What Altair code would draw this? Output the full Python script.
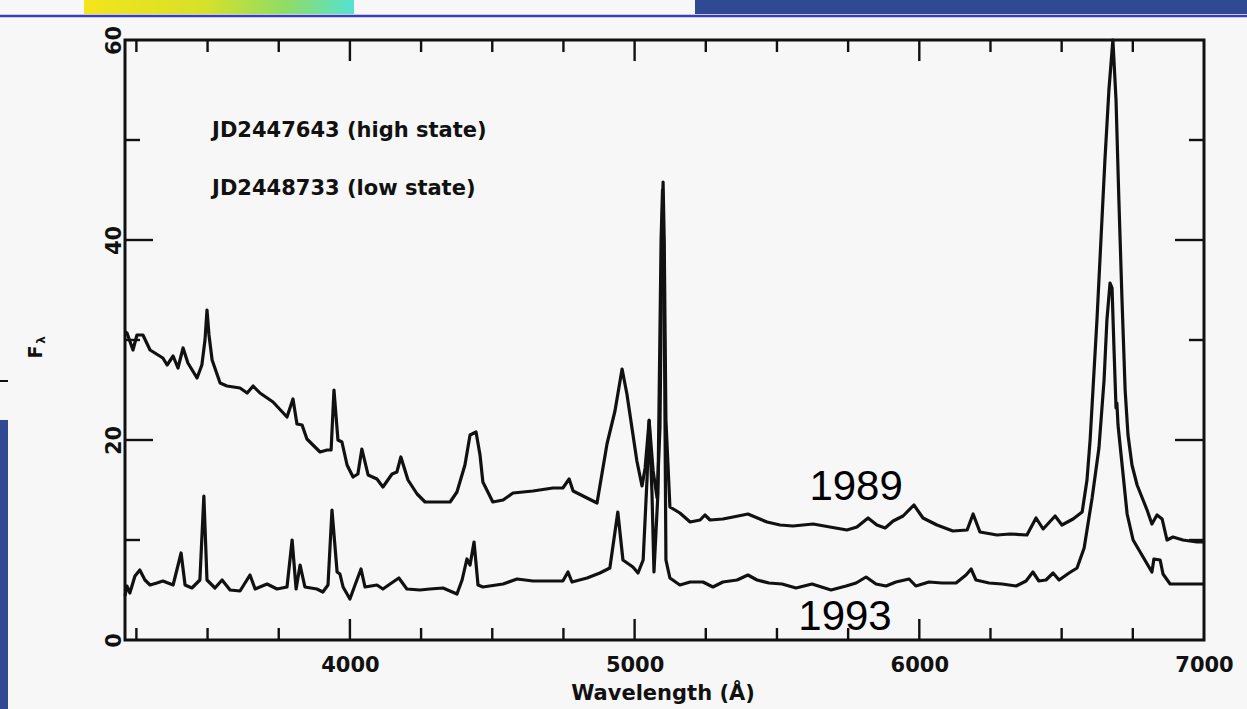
import altair as alt
import pandas as pd

# JD2447643 (1989, high state): wavelength (Å) and F_lambda
high_wl = [3210, 3217, 3238, 3252, 3273, 3298, 3343, 3358, 3379, 3396, 3414, 3431, 3463, 3480,
           3491, 3498, 3505, 3516, 3544, 3568, 3614, 3639, 3660, 3684, 3730, 3779, 3800, 3814,
           3832, 3849, 3895, 3920, 3934, 3944, 3958, 3972, 3990, 4011, 4028, 4042, 4064, 4095,
           4116, 4148, 4165, 4179, 4204, 4236, 4264, 4306, 4352, 4376, 4404, 4422, 4443, 4457,
           4467, 4502, 4538, 4573, 4643, 4713, 4748, 4770, 4784, 4819, 4868, 4903, 4931, 4956,
           4973, 5008, 5026, 5037, 5051, 5065, 5079, 5089, 5096, 5100, 5104, 5110, 5124, 5159,
           5195, 5230, 5247, 5265, 5310, 5346, 5398, 5465, 5511, 5556, 5627, 5686, 5746, 5781,
           5820, 5851, 5880, 5908, 5943, 5981, 6013, 6062, 6118, 6168, 6189, 6213, 6273, 6319,
           6378, 6410, 6435, 6477, 6501, 6540, 6572, 6589, 6600, 6610, 6624, 6638, 6652, 6666,
           6680, 6691, 6701, 6712, 6723, 6733, 6747, 6765, 6786, 6800, 6817, 6835, 6853, 6870,
           6891, 6926, 6975, 7000]
high_f = [30.8, 30.7, 29.0, 30.5, 30.5, 29.0, 28.2, 27.5, 28.4, 27.2, 29.2, 27.7, 26.2, 27.5,
          30.0, 33.0, 30.5, 28.0, 25.7, 25.4, 25.2, 24.7, 25.4, 24.7, 23.8, 22.3, 24.1, 21.6,
          21.5, 20.1, 18.8, 19.0, 19.0, 25.0, 20.0, 19.8, 17.5, 16.3, 16.6, 19.1, 16.5, 16.1,
          15.3, 16.6, 16.8, 18.3, 16.0, 14.6, 13.8, 13.8, 13.8, 14.8, 17.5, 20.5, 20.8, 18.5,
          15.8, 13.8, 14.0, 14.7, 14.9, 15.2, 15.2, 16.1, 14.9, 14.4, 13.7, 19.6, 22.9, 27.1,
          24.6, 17.9, 15.4, 17.2, 21.9, 16.9, 14.2, 21.2, 40.0, 45.8, 40.0, 22.0, 13.3, 12.7,
          11.8, 12.0, 12.5, 12.0, 12.1, 12.3, 12.6, 11.8, 11.5, 11.4, 11.6, 11.3, 11.0, 11.3,
          12.2, 11.5, 11.2, 11.9, 12.4, 13.5, 12.2, 11.5, 10.9, 11.0, 12.6, 10.8, 10.5, 10.6,
          10.5, 12.2, 11.1, 12.4, 11.5, 12.1, 12.8, 16.0, 20.0, 25.0, 32.0, 40.0, 48.0, 55.0,
          60.0, 54.0, 44.0, 34.0, 25.0, 20.5, 17.5, 15.5, 14.0, 13.0, 11.6, 12.5, 12.1, 10.0,
          10.3, 10.0, 9.8, 9.8]

# JD2448733 (1993, low state)
low_wl = [3210, 3217, 3227, 3245, 3262, 3280, 3298, 3322, 3343, 3379, 3407, 3421, 3445, 3473,
          3487, 3498, 3526, 3551, 3579, 3614, 3649, 3667, 3709, 3744, 3779, 3797, 3811, 3825,
          3842, 3884, 3905, 3923, 3937, 3955, 3965, 3976, 4000, 4018, 4039, 4053, 4095, 4116,
          4141, 4172, 4200, 4246, 4281, 4327, 4376, 4394, 4411, 4422, 4436, 4450, 4467, 4538,
          4587, 4643, 4703, 4748, 4766, 4780, 4833, 4878, 4913, 4941, 4959, 4994, 5012, 5030,
          5044, 5051, 5061, 5068, 5082, 5093, 5098, 5103, 5110, 5124, 5159, 5195, 5240, 5275,
          5310, 5360, 5398, 5430, 5472, 5518, 5567, 5623, 5690, 5743, 5778, 5813, 5848, 5883,
          5918, 5964, 5988, 6034, 6080, 6129, 6164, 6182, 6199, 6245, 6291, 6340, 6375, 6399,
          6420, 6445, 6470, 6491, 6526, 6554, 6579, 6607, 6631, 6649, 6659, 6670, 6677, 6684,
          6691, 6694, 6698, 6712, 6730, 6751, 6786, 6817, 6824, 6846, 6856, 6881, 6926, 7000]
low_f = [4.4, 5.4, 4.7, 6.4, 7.0, 6.0, 5.5, 5.7, 5.9, 5.5, 8.7, 5.5, 5.2, 6.0,
         14.4, 6.0, 5.2, 6.0, 5.0, 4.9, 6.5, 5.1, 5.6, 5.1, 5.3, 10.0, 5.1, 7.5,
         5.3, 5.1, 4.8, 5.5, 13.0, 6.8, 6.6, 5.3, 4.1, 5.5, 7.1, 5.3, 5.5, 5.1,
         5.6, 6.2, 5.1, 5.0, 5.1, 5.2, 4.6, 6.0, 8.1, 7.5, 9.8, 5.5, 5.3, 5.6,
         6.1, 5.9, 5.9, 5.9, 6.8, 5.8, 6.2, 6.7, 7.2, 12.8, 8.0, 7.3, 6.7, 8.0,
         16.3, 22.0, 14.7, 6.8, 14.7, 40.0, 45.0, 38.0, 8.0, 6.2, 5.5, 5.8, 5.8, 5.3,
         5.8, 6.0, 6.5, 6.0, 5.7, 5.6, 5.2, 5.6, 5.0, 5.4, 5.7, 6.3, 5.6, 5.4,
         5.8, 6.1, 5.4, 5.8, 5.7, 5.7, 6.5, 7.1, 6.0, 5.7, 5.6, 5.4, 5.9, 6.8,
         5.9, 6.0, 6.7, 6.0, 6.7, 7.2, 9.2, 14.2, 19.2, 26.0, 32.0, 35.7, 35.2, 29.0,
         23.2, 23.7, 21.5, 17.6, 12.6, 10.0, 8.3, 6.8, 8.1, 8.0, 6.6, 5.6, 5.6, 5.6]

# Axis layout
x_min, x_max = 3210, 7000
y_min, y_max = 0, 60
x_major = [4000, 5000, 6000]
x_minor = [3250, 3500, 3750, 4250, 4500, 4750, 5250, 5500, 5750, 6250, 6500, 6750]
y_major = [20, 40]
y_minor = [10, 30, 50]
x_labels = [4000, 5000, 6000, 7000]
y_labels = [0, 20, 40, 60]

# Annotations
legend_text = ["JD2447643 (high state)", "JD2448733 (low state)"]
legend_wl = [3516, 3516]
legend_f = [50.3, 44.5]
year_text = ["1989", "1993"]
year_wl = [5778, 5739]
year_f = [14.0, 1.0]

W, H = 1079, 600
INK = "#111111"
BOLD = "DejaVu Sans"

xs = alt.Scale(domain=[x_min, x_max], nice=False, zero=False)
ys = alt.Scale(domain=[y_min, y_max], nice=False, zero=False)

spec = pd.concat([
    pd.DataFrame({"wl": high_wl, "f": high_f, "state": "high"}),
    pd.DataFrame({"wl": low_wl, "f": low_f, "state": "low"}),
])

lines = alt.Chart(spec).mark_line(color=INK, strokeWidth=3.2, strokeJoin="round").encode(
    x=alt.X("wl:Q", scale=xs,
            axis=alt.Axis(values=x_labels, format="d", ticks=False, tickSize=0, domain=False,
                          grid=False, labelFont=BOLD, labelFontWeight="bold", labelFontSize=21,
                          labelColor=INK, labelBaseline="alphabetic", labelPadding=31,
                          labelFlush=False, labelOverlap=False,
                          title="Wavelength (Å)", titleFont=BOLD, titleFontWeight="bold",
                          titleFontSize=21, titleColor=INK, titleX=W / 2 - 2, titleY=59,
                          titleAlign="center", titleBaseline="alphabetic")),
    y=alt.Y("f:Q", scale=ys,
            axis=alt.Axis(values=y_labels, format="d", ticks=False, tickSize=0, domain=False,
                          grid=False, labelFont=BOLD, labelFontWeight="bold", labelFontSize=21,
                          labelColor=INK, labelAngle=270, labelAlign="center",
                          labelBaseline="alphabetic", labelPadding=5, labelFlush=False,
                          labelOverlap=False, title=None)),
    detail="state:N",
)

def xticks(vals, length, top):
    d = pd.DataFrame({"wl": vals})
    if top:
        enc = dict(y=alt.value(0), y2=alt.value(length))
    else:
        enc = dict(y=alt.value(H), y2=alt.value(H - length))
    return alt.Chart(d).mark_rule(color=INK, strokeWidth=2.4).encode(
        x=alt.X("wl:Q", scale=xs), **enc)

def yticks(vals, length, right):
    d = pd.DataFrame({"f": vals})
    if right:
        enc = dict(x=alt.value(W), x2=alt.value(W - length))
    else:
        enc = dict(x=alt.value(0), x2=alt.value(length))
    return alt.Chart(d).mark_rule(color=INK, strokeWidth=2.4).encode(
        y=alt.Y("f:Q", scale=ys), **enc)

ticks = [
    xticks(x_major, 21, False), xticks(x_minor, 12, False),
    xticks(x_major, 21, True), xticks(x_minor, 12, True),
    yticks(y_major, 28, False), yticks(y_minor, 15, False),
    yticks(y_major, 29, True), yticks(y_minor, 15, True),
]

legend = alt.Chart(pd.DataFrame({"wl": legend_wl, "f": legend_f, "t": legend_text})).mark_text(
    font=BOLD, fontWeight="bold", fontSize=21, color=INK, align="left", baseline="alphabetic"
).encode(x=alt.X("wl:Q", scale=xs), y=alt.Y("f:Q", scale=ys), text="t:N")

years = alt.Chart(pd.DataFrame({"wl": year_wl, "f": year_f, "t": year_text})).mark_text(
    font="Liberation Sans", fontSize=42, color="#000000", align="center", baseline="alphabetic"
).encode(x=alt.X("wl:Q", scale=xs), y=alt.Y("f:Q", scale=ys), text="t:N")

one = pd.DataFrame({"k": [0]})

# F_lambda axis title, rotated
f_title = alt.Chart(one).mark_text(
    text="F", font=BOLD, fontWeight="bold", fontSize=19, color=INK, angle=270,
    align="center", baseline="middle"
).encode(x=alt.value(-89), y=alt.value(312))
f_sub = alt.Chart(one).mark_text(
    text="λ", font=BOLD, fontWeight="bold", fontSize=12, color=INK, angle=270,
    align="center", baseline="middle"
).encode(x=alt.value(-84), y=alt.value(300))

# slide frame around the figure
band = alt.Chart(one).mark_rect(color="#2f4a93").encode(
    x=alt.value(570), x2=alt.value(W + 43), y=alt.value(-40), y2=alt.value(-26))
logo = alt.Chart(one).mark_rect(
    color=alt.Gradient(gradient="linear", x1=0, x2=1, y1=0, y2=0, stops=[
        alt.GradientStop(color="#f4e41c", offset=0),
        alt.GradientStop(color="#d6e02a", offset=0.45),
        alt.GradientStop(color="#8fdc66", offset=0.75),
        alt.GradientStop(color="#55e2d2", offset=1),
    ])
).encode(x=alt.value(-41), x2=alt.value(229), y=alt.value(-40), y2=alt.value(-26))
rule_top = alt.Chart(one).mark_rule(color="#3a3db8", strokeWidth=2.5).encode(
    x=alt.value(-125), x2=alt.value(W + 43), y=alt.value(-24))
strip = alt.Chart(one).mark_rect(color="#2f4a93").encode(
    x=alt.value(-125), x2=alt.value(-117), y=alt.value(380), y2=alt.value(H + 69))
dash = alt.Chart(one).mark_rule(color=INK, strokeWidth=2).encode(
    x=alt.value(-125), x2=alt.value(-117), y=alt.value(341))

chart = alt.layer(
    band, logo, rule_top, strip, dash, lines, *ticks, legend, years, f_title, f_sub
).properties(
    width=W, height=H,
    autosize=alt.AutoSizeParams(type="none"),
    padding={"left": 125, "top": 40, "right": 43, "bottom": 69},
    background="#f7f7f7",
).configure_view(stroke=INK, strokeWidth=3)

chart.save("out.html", embed_options={"renderer": "svg", "actions": False})
